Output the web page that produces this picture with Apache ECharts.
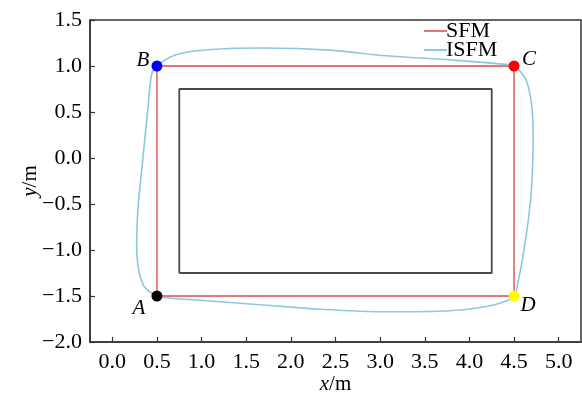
<!DOCTYPE html>
<html>
<head>
<meta charset="utf-8">
<script src="https://cdn.jsdelivr.net/npm/echarts@6/dist/echarts.min.js"></script>
<style>html,body{margin:0;padding:0;background:#fff}#c{width:582px;height:394px}</style>
</head>
<body>
<div id="c"></div>
<script>
const xTicks = [0.0, 0.5, 1.0, 1.5, 2.0, 2.5, 3.0, 3.5, 4.0, 4.5, 5.0];
const sfmX = [0.5, 0.5, 4.5, 4.5, 0.5];
const sfmY = [-1.5, 1.0, 1.0, -1.5, -1.5];
const isfmX = [0.5, 0.422, 0.347, 0.291, 0.273, 0.291, 0.347, 0.403, 0.441, 0.5,
  0.683, 0.945, 1.318, 1.69, 2.44, 3.07, 3.82, 4.49, 4.5,
  4.565, 4.64, 4.696, 4.714, 4.696, 4.658, 4.602, 4.546, 4.5,
  4.34, 4.005, 3.63, 3.07, 2.33, 1.69, 0.945, 0.57, 0.5];
const isfmY = [-1.5, -1.459, -1.379, -1.197, -0.907, -0.507, 0.039, 0.584, 0.911, 1.0,
  1.111, 1.165, 1.191, 1.195, 1.173, 1.111, 1.064, 1.01, 1.0,
  0.947, 0.838, 0.584, 0.221, -0.324, -0.689, -1.052, -1.343, -1.5,
  -1.578, -1.641, -1.666, -1.672, -1.644, -1.597, -1.543, -1.517, -1.5];
const boxX = [0.75, 0.75, 4.25, 4.25, 0.75];
const boxY = [-1.25, 0.75, 0.75, -1.25, -1.25];
const ptNames = ['A', 'B', 'C', 'D'];
const ptX = [0.5, 0.5, 4.5, 4.5];
const ptY = [-1.5, 1.0, 1.0, -1.5];
const ptColors = ['#000000', '#0000ff', '#ff0000', '#ffff00'];
const ptOffsets = [[-18, 12], [-14, -6], [15, -7], [14, 9]];

const zip = (a, b) => a.map((v, i) => [v, b[i]]);
const F = 'Liberation Serif, Times New Roman, serif';
const chart = echarts.init(document.getElementById('c'));
chart.setOption({
  animation: false,
  backgroundColor: '#fff',
  grid: { left: 90, right: 1, top: 20, bottom: 52, show: true, borderColor: '#333', borderWidth: 1.5, outerBoundsMode: 'none', containLabel: false },
  legend: {
    orient: 'vertical', left: 419, top: 15, itemGap: -3, itemWidth: 23, itemHeight: 2, icon: 'rect',
    textStyle: { fontFamily: F, fontSize: 22, color: '#000', padding: [0, 0, 0, -6] },
    data: ['SFM', 'ISFM']
  },
  xAxis: {
    type: 'value', min: -0.25, max: 5.25,
    name: '{i|x}/m', nameLocation: 'middle', nameGap: 32, nameMoveOverlap: false,
    nameTextStyle: { fontFamily: F, fontSize: 21, color: '#000', rich: { i: { fontFamily: F, fontSize: 21, fontStyle: 'italic' } } },
    axisLine: { show: true, onZero: false, lineStyle: { color: '#333', width: 1.5 } },
    axisTick: { show: true, inside: true, length: 5, lineStyle: { color: '#333', width: 1.2 }, customValues: xTicks },
    axisLabel: { customValues: xTicks, fontFamily: F, fontSize: 22, color: '#000', margin: 9, formatter: v => v.toFixed(1) },
    splitLine: { show: false }
  },
  yAxis: {
    type: 'value', min: -2, max: 1.5, interval: 0.5,
    name: '{i|y}/m', nameLocation: 'middle', nameGap: 49, nameMoveOverlap: false,
    nameTextStyle: { fontFamily: F, fontSize: 21, color: '#000', rich: { i: { fontFamily: F, fontSize: 21, fontStyle: 'italic' } } },
    axisLine: { show: true, onZero: false, lineStyle: { color: '#333', width: 1.5 } },
    axisTick: { show: true, inside: true, length: 5, lineStyle: { color: '#333', width: 1.2 } },
    axisLabel: { fontFamily: F, fontSize: 22, color: '#000', margin: 8, formatter: v => v.toFixed(1).replace('-', '\u2212') },
    splitLine: { show: false }
  },
  series: [
    { name: 'box', type: 'line', data: zip(boxX, boxY), symbol: 'none', lineStyle: { color: '#4a4a4a', width: 1.8 }, itemStyle: { color: '#4a4a4a' }, z: 2 },
    { name: 'SFM', type: 'line', data: zip(sfmX, sfmY), symbol: 'none', lineStyle: { color: '#e07878', width: 1.8 }, itemStyle: { color: '#e07878' }, z: 3 },
    { name: 'ISFM', type: 'line', data: zip(isfmX, isfmY), symbol: 'none', smooth: 0.3, lineStyle: { color: '#8ec8e0', width: 1.6 }, itemStyle: { color: '#8ec8e0' }, z: 4 },
    { name: 'pts', type: 'scatter', symbolSize: 11, z: 5,
      data: ptNames.map((n, i) => ({
        value: [ptX[i], ptY[i]], name: n,
        itemStyle: { color: ptColors[i], opacity: 1 },
        label: { show: true, formatter: n, position: 'inside', offset: ptOffsets[i], fontFamily: F, fontSize: 21, fontStyle: 'italic', color: '#000' }
      }))
    }
  ]
});
</script>
</body>
</html>
